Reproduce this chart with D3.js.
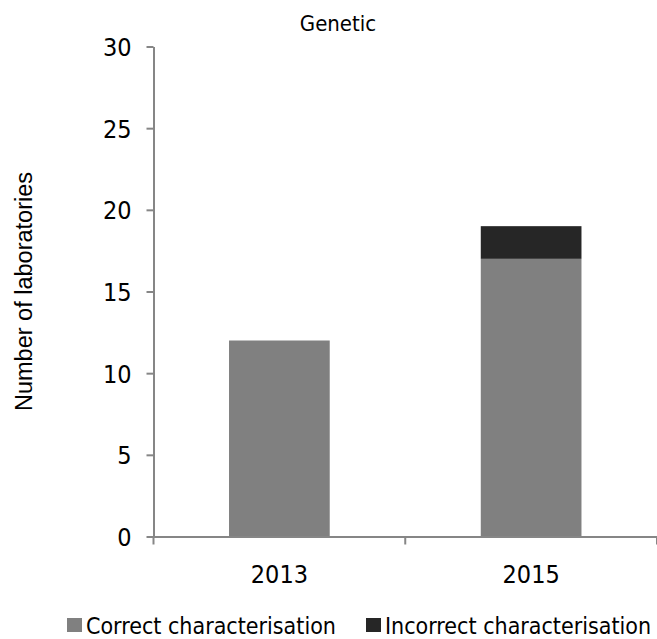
<!DOCTYPE html>
<html>
<head>
<meta charset="utf-8">
<script src="https://cdn.jsdelivr.net/npm/d3@7"></script>
<style>
  html, body { margin: 0; padding: 0; background: #fff; }
  svg { display: block; }
  .tahoma { font-family: "DejaVu Sans Condensed", "DejaVu Sans", sans-serif; font-stretch: condensed; }
</style>
</head>
<body>
<svg id="chart" width="657" height="639"></svg>
<script>
// Laboratories per survey year, split by characterisation outcome
const years = ["2013", "2015"];
const correct = [12, 17];
const incorrect = [0, 2];
const seriesNames = ["Correct characterisation", "Incorrect characterisation"];
const seriesColors = ["#808080", "#262626"];
const yTicks = [0, 5, 10, 15, 20, 25, 30];
const chartTitle = "Genetic";
const yTitle = "Number of laboratories";

const svg = d3.select("#chart");
const axisColor = "#868686";

const x = d3.scaleBand()
  .domain(years)
  .range([153.5, 657])
  .paddingInner(0.6)
  .paddingOuter(0.3);

const y = d3.scaleLinear().domain([0, 30]).range([536.5, 46.5]);

// stacked layers
const rows = years.map((yr, i) => ({ year: yr, correct: correct[i], incorrect: incorrect[i] }));
const stack = d3.stack().keys(["correct", "incorrect"]);
const layers = stack(rows);

svg.append("g").selectAll("g")
  .data(layers)
  .join("g")
  .attr("fill", (d, i) => seriesColors[i])
  .selectAll("rect")
  .data(d => d.filter(p => p[1] > p[0]))
  .join("rect")
  .attr("x", d => x(d.data.year))
  .attr("width", x.bandwidth())
  .attr("y", d => y(d[1]))
  .attr("height", d => y(d[0]) - y(d[1]));

// y axis
const yAxis = svg.append("g")
  .attr("transform", `translate(${x.range()[0]},0)`)
  .call(d3.axisLeft(y).tickValues(yTicks).tickSize(7).tickPadding(15).tickSizeOuter(0));
yAxis.select(".domain").attr("stroke", axisColor).attr("stroke-width", 2);
yAxis.selectAll(".tick line").attr("stroke", axisColor).attr("stroke-width", 2);
yAxis.selectAll(".tick text")
  .attr("class", "tahoma")
  .attr("fill", "#000")
  .style("font-size", "25px")
  .attr("dy", "0.36em");

// x axis: labels at band centres, tick marks on category boundaries
const xAxis = svg.append("g")
  .attr("transform", `translate(0,${y(0)})`)
  .call(d3.axisBottom(x).tickSize(0).tickPadding(29).tickSizeOuter(0));
xAxis.select(".domain").attr("stroke", axisColor).attr("stroke-width", 2);
xAxis.selectAll(".tick text")
  .attr("class", "tahoma")
  .attr("fill", "#000")
  .style("font-size", "25px");
const bounds = d3.range(years.length + 1).map(i => x.range()[0] + i * x.step());
xAxis.selectAll("line.bound")
  .data(bounds)
  .join("line")
  .attr("class", "bound")
  .attr("x1", d => d).attr("x2", d => d)
  .attr("y1", 0).attr("y2", 8)
  .attr("stroke", axisColor).attr("stroke-width", 2);

// title
svg.append("text")
  .attr("class", "tahoma")
  .attr("x", 338).attr("y", 31)
  .attr("text-anchor", "middle")
  .style("font-size", "22px")
  .text(chartTitle);

// y axis title, centred on the plot area
svg.append("text")
  .attr("transform", `translate(32,${(y(0) + y(30)) / 2}) rotate(-90)`)
  .attr("text-anchor", "middle")
  .style("font-family", "'Liberation Sans', Arial, sans-serif")
  .style("font-size", "23.5px")
  .text(yTitle);

// legend
const legendX = [67, 366];
const legend = svg.append("g").selectAll("g")
  .data(seriesNames)
  .join("g")
  .attr("transform", (d, i) => `translate(${legendX[i]},618)`);
legend.append("rect")
  .attr("width", 15).attr("height", 14)
  .attr("fill", (d, i) => seriesColors[i]);
legend.append("text")
  .attr("class", "tahoma")
  .attr("x", 19).attr("y", 15.5)
  .style("font-size", "23px")
  .text(d => d);
</script>
</body>
</html>
